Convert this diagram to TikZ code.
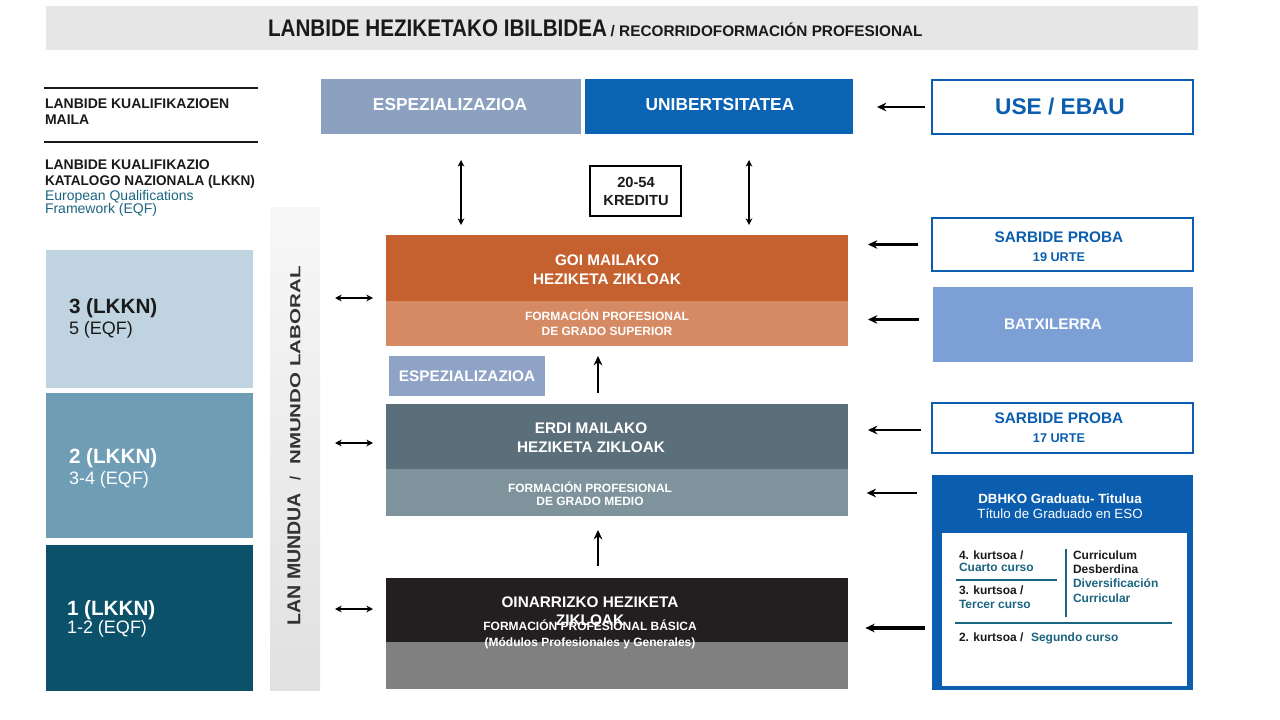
\documentclass[tikz,border=0pt]{standalone}
\usepackage{fontspec}
\setmainfont{Liberation Sans}
\usetikzlibrary{arrows.meta,fit,calc}
\definecolor{titlebg}{HTML}{E6E6E6}
\definecolor{ink}{HTML}{1A1A1A}
\definecolor{eqfteal}{HTML}{1B6581}
\definecolor{bluebd}{HTML}{0B5EAF}
\definecolor{espc}{HTML}{8CA0C0}
\definecolor{unibc}{HTML}{0A63B3}
\definecolor{goiAc}{HTML}{C5612F}
\definecolor{goiBc}{HTML}{D68A63}
\definecolor{erdiAc}{HTML}{5B6F7A}
\definecolor{erdiBc}{HTML}{7F939C}
\definecolor{oinAc}{HTML}{231F20}
\definecolor{oinBc}{HTML}{808080}
\definecolor{espsc}{HTML}{8EA3C6}
\definecolor{batc}{HTML}{7C9FD5}
\definecolor{lvthree}{HTML}{BFD3E1}
\definecolor{lvtwo}{HTML}{6E9DB5}
\definecolor{lvone}{HTML}{0A5169}
\definecolor{lancol}{HTML}{333333}
\newcommand\fs[2]{\fontsize{#1}{#2}\selectfont}
\begin{document}
\begin{tikzpicture}[x=0.75pt,y=-0.75pt,
  area/.style={inner sep=0pt, outer sep=0pt},
  txt/.style={inner sep=0pt, outer sep=0pt, align=center},
  wtxt/.style={txt, text=white},
  ltxt/.style={inner sep=0pt, outer sep=0pt, anchor=base west},
  bluebox/.style={area, draw=bluebd, line width=2.2pt, fill=white},
  arr/.style={line width=1.7pt, -{Stealth[length=7pt,width=6.5pt]}},
  darr/.style={line width=1pt, {Stealth[length=5pt,width=5pt]}-{Stealth[length=5pt,width=5pt]}}]
\useasboundingbox (0,0) rectangle (1280,720);
\fill[white] (0,0) rectangle (1280,720);

% title
\node[area, fill=titlebg, fit={(46,6) (1198,50)}] (title) {};
\node[ltxt, text=ink] (titleT) at (268,37) {{\fs{18}{18}\bfseries\scalebox{0.86}[1]{LANBIDE HEZIKETAKO IBILBIDEA}} {\fs{11.5}{12}\bfseries / RECORRIDOFORMACIÓN PROFESIONAL}};

% left headers
\draw[line width=1.6pt, ink] (44,88) -- (258,88);
\draw[line width=1.6pt, ink] (44,142) -- (258,142);
\node[ltxt, font=\fs{10.5}{12}\bfseries, text=ink] (h1) at (45,109) {LANBIDE KUALIFIKAZIOEN};
\node[ltxt, font=\fs{10.5}{12}\bfseries, text=ink] (h2) at (45,125) {MAILA};
\node[ltxt, font=\fs{10.5}{12}\bfseries, text=ink] (h3) at (45,170) {LANBIDE KUALIFIKAZIO};
\node[ltxt, font=\fs{10.5}{12}\bfseries, text=ink] (h4) at (45,186) {\scalebox{0.97}[1]{KATALOGO NAZIONALA (LKKN)}};
\node[ltxt, font=\fs{10.5}{12}, text=eqfteal] (h5) at (45,201) {European Qualifications};
\node[ltxt, font=\fs{10.5}{12}, text=eqfteal] (h6) at (45,214) {Framework (EQF)};

% level boxes
\node[area, fill=lvthree, fit={(46,250) (253,388)}] (lv3) {};
\node[area, fill=lvtwo, fit={(46,393) (253,538)}] (lv2) {};
\node[area, fill=lvone, fit={(46,545) (253,691)}] (lv1) {};
\node[ltxt, font=\fs{15.5}{16}\bfseries, text=ink] (lv3a) at (69,313) {3 (LKKN)};
\node[ltxt, font=\fs{13.5}{14}, text=ink] (lv3b) at (69,334) {5 (EQF)};
\node[ltxt, font=\fs{15.5}{16}\bfseries, text=white] (lv2a) at (69,463) {2 (LKKN)};
\node[ltxt, font=\fs{13.5}{14}, text=white] (lv2b) at (69,484) {3-4 (EQF)};
\node[ltxt, font=\fs{15.5}{16}\bfseries, text=white] (lv1a) at (67,615) {1 (LKKN)};
\node[ltxt, font=\fs{13.5}{14}, text=white] (lv1b) at (67,633) {1-2 (EQF)};

% gray bar
\node[area, fit={(270,208) (320,690)}, top color=black!3, middle color=black!21, bottom color=black!12] (bar) {};
\node[txt, rotate=90, text=lancol] (lanT) at (294,446) {{\fs{14}{15}\bfseries\scalebox{1.05}[1]{LAN MUNDUA}}\hspace{9pt}{\fs{11}{12}\bfseries /\hspace{9pt}\scalebox{1.4}[1]{NMUNDO LABORAL}}};

% top row
\node[area, fill=espc, fit={(321,79) (581,134)}] (esp) {};
\node[area, fill=unibc, fit={(585,79) (853,134)}] (unib) {};
\node[wtxt, font=\fs{13}{14}\bfseries] (espT) at (450,105) {ESPEZIALIZAZIOA};
\node[wtxt, font=\fs{13}{14}\bfseries] (unibT) at (720,105) {UNIBERTSITATEA};
\node[bluebox, fit={(932,80) (1193,134)}] (use) {};
\node[txt, font=\fs{17}{18}\bfseries, text=bluebd] (useT) at (1060,107) {USE / EBAU};

% kreditu
\node[area, draw=black, line width=1.6pt, fill=white, fit={(590,166) (681,216)}] (kred) {};
\node[txt, font=\fs{11}{13.5}\bfseries, text=ink] (kredT) at (636,191) {20-54\\KREDITU};

% goi mailako
\node[area, fill=goiAc, fit={(386,235) (848,301)}] (goi) {};
\node[area, fill=goiBc, fit={(386,301) (848,346)}] (goisub) {};
\node[wtxt, font=\fs{11.5}{14}\bfseries] (goiT) at (607,270) {GOI MAILAKO\\HEZIKETA ZIKLOAK};
\node[wtxt, font=\fs{9}{11.3}\bfseries] (goisubT) at (607,323) {FORMACIÓN PROFESIONAL\\DE GRADO SUPERIOR};

% espezializazioa small
\node[area, fill=espsc, fit={(389,356) (545,396)}] (esps) {};
\node[wtxt, font=\fs{11.5}{12}\bfseries] (espsT) at (467,376) {ESPEZIALIZAZIOA};

% erdi mailako
\node[area, fill=erdiAc, fit={(386,404) (848,469)}] (erdi) {};
\node[area, fill=erdiBc, fit={(386,469) (848,516)}] (erdisub) {};
\node[wtxt, font=\fs{11.5}{14}\bfseries] (erdiT) at (591,438) {ERDI MAILAKO\\HEZIKETA ZIKLOAK};
\node[wtxt, font=\fs{9}{10}\bfseries] (erdisubT) at (590,494) {FORMACIÓN PROFESIONAL\\DE GRADO MEDIO};

% oinarrizko (texts overlap as in the reference)
\node[area, fill=oinAc, fit={(386,578) (848,642)}] (oin) {};
\node[area, fill=oinBc, fit={(386,642) (848,689)}] (oinsub) {};
\node[wtxt, font=\fs{11.5}{13.5}\bfseries] (oinT) at (590,611) {OINARRIZKO HEZIKETA\\ZIKLOAK};
\node[wtxt, font=\fs{9}{12}\bfseries] (oinsubT) at (590,634) {FORMACIÓN PROFESIONAL BÁSICA\\(Módulos Profesionales y Generales)};

% right column
\node[bluebox, fit={(932,218) (1193,271)}] (s19) {};
\node[txt, font=\fs{11.5}{14}\bfseries, text=bluebd] (s19T) at (1059,247) {SARBIDE PROBA\\{\fs{9.5}{10}19 URTE}};
\node[area, fill=batc, fit={(933,287) (1193,362)}] (bat) {};
\node[wtxt, font=\fs{11.5}{12}\bfseries] (batT) at (1053,324) {BATXILERRA};
\node[bluebox, fit={(932,403) (1193,453)}] (s17) {};
\node[txt, font=\fs{11.5}{14}\bfseries, text=bluebd] (s17T) at (1059,428) {SARBIDE PROBA\\{\fs{9.5}{10}17 URTE}};

% DBHKO
\node[area, fill=bluebd, fit={(932,475) (1193,690)}] (dbh) {};
\node[area, fill=white, fit={(942,533) (1187,686)}] (dbhin) {};
\node[wtxt, font=\fs{10}{11.5}] (dbhT) at (1060,506) {\bfseries DBHKO Graduatu- Titulua\\Título de Graduado en ESO};
\draw[eqfteal, line width=1pt] (956,580) -- (1057,580);
\draw[eqfteal, line width=1pt] (1066,549) -- (1066,617);
\draw[eqfteal, line width=1pt] (955,623) -- (1172,623);
\node[ltxt, font=\fs{9}{10}\bfseries, text=ink] (k4) at (959,559) {4. kurtsoa /};
\node[ltxt, font=\fs{9}{10}\bfseries, text=eqfteal] (k4b) at (959,571) {Cuarto curso};
\node[ltxt, font=\fs{9}{10}\bfseries, text=ink] (k3) at (959,594) {3. kurtsoa /};
\node[ltxt, font=\fs{9}{10}\bfseries, text=eqfteal] (k3b) at (959,608) {Tercer curso};
\node[ltxt, font=\fs{9}{10}\bfseries, text=ink] (cd1) at (1073,559) {Curriculum};
\node[ltxt, font=\fs{9}{10}\bfseries, text=ink] (cd2) at (1073,573) {Desberdina};
\node[ltxt, font=\fs{9}{10}\bfseries, text=eqfteal] (cd3) at (1073,587) {Diversificación};
\node[ltxt, font=\fs{9}{10}\bfseries, text=eqfteal] (cd4) at (1073,602) {Curricular};
\node[ltxt, font=\fs{9}{10}\bfseries, text=ink] (k2) at (959,641) {2. kurtsoa /};
\node[ltxt, font=\fs{9}{10}\bfseries, text=eqfteal] (k2b) at (1031,641) {Segundo curso};

% arrows: right column -> middle
\draw[arr, line width=2.1pt, shorten <=5.25pt, shorten >=18pt] (use.west) -- (use.west -| unib.east);
\draw[arr, shorten <=10.5pt, shorten >=15pt] (s19.west) -- (s19.west -| goi.east);
\draw[arr, shorten <=10.5pt, shorten >=15pt] ([yshift=3.75pt]bat.west) -- ([yshift=3.75pt]bat.west -| goi.east);
\draw[arr, shorten <=8pt, shorten >=15pt] ([yshift=-1.5pt]s17.west) -- ([yshift=-1.5pt]s17.west -| erdi.east);
\coordinate (d1) at (932,493);
\draw[arr, shorten <=11.5pt, shorten >=14pt] (d1) -- (d1 -| erdisub.east);
\coordinate (d2) at (932,628);
\draw[arr, line width=2.3pt, shorten <=5pt, shorten >=13pt] (d2) -- (d2 -| oin.east);

% left double arrows
\coordinate (l3) at (320,298);
\coordinate (l2) at (320,443);
\coordinate (l1) at (320,609);
\draw[darr, shorten <=11.25pt, shorten >=9.75pt] (l3) -- (l3 -| goi.west);
\draw[darr, shorten <=11.25pt, shorten >=9.75pt] (l2) -- (l2 -| erdi.west);
\draw[darr, shorten <=11.25pt, shorten >=9.75pt] (l1) -- (l1 -| oin.west);

% vertical double arrows
\coordinate (v1) at (461,134);
\coordinate (v2) at (749,134);
\draw[darr, shorten <=19.5pt, shorten >=7.5pt] (v1) -- (v1 |- goi.north);
\draw[darr, shorten <=19.5pt, shorten >=7.5pt] (v2) -- (v2 |- goi.north);

% up arrows
\coordinate (u1) at (598,404);
\coordinate (u2) at (598,578);
\draw[arr, line width=1.5pt, shorten <=8.25pt, shorten >=7.5pt] (u1) -- (u1 |- goisub.south);
\draw[arr, line width=1.5pt, shorten <=9pt, shorten >=10.5pt] (u2) -- (u2 |- erdisub.south);
\end{tikzpicture}
\end{document}
